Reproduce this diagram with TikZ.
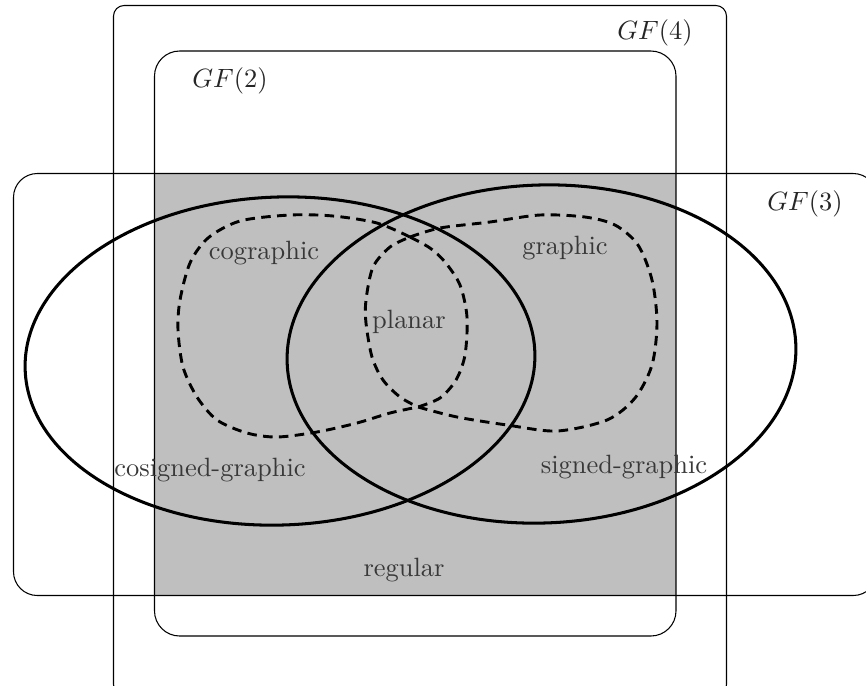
\documentclass[tikz,border=0pt]{standalone}
\begin{document}
\begin{tikzpicture}[x=0.378pt,y=-0.378pt,
  setbox/.style={draw=black, line width=0.4pt},
  venn/.style={draw=black, line width=1.15pt},
  loopline/.style={draw=black, line width=1.1pt, dash pattern=on 3.6pt off 2.4pt},
  lbl/.style={text=black!78, inner sep=0pt},
  gflbl/.style={text=black!85, inner sep=0pt}]
\useasboundingbox (0,0) rectangle (866,685);
% shaded intersection of GF(2) and GF(3)
\fill[black!25] (154.5,173.5) rectangle (676,595.5);
% field rectangles
\draw[setbox, rounded corners=4pt] (113.5,5.5) rectangle (726.5,695);
\draw[setbox, rounded corners=9.5pt] (154.5,51) rectangle (676,636);
\draw[setbox, rounded corners=9pt] (13.5,173.5) rectangle (877,595.5);
% the two big ellipses
\draw[venn, rotate around={2:(280,361)}] (280,361) ellipse (255 and 164);
\draw[venn, rotate around={2:(541.5,354)}] (541.5,354) ellipse (254.5 and 169);
% cographic loop
\draw[loopline] plot[smooth] coordinates {(410,237) (377,223) (333,216) (290,215) (240,221) (208,238) (190,263) (180,300) (178,330) (183,367) (197,397) (217,420) (247,433) (277,437) (317,432) (357,423) (390,413) (418,407)}
  -- plot[smooth] coordinates {(418,407) (440,398) (456,380) (465,355) (467,317) (460,285) (445,262) (430,248) (410,237)} -- cycle;
% graphic loop
\draw[loopline] plot[smooth] coordinates {(410,237) (440,228) (490,222) (540,215) (585,217) (615,225) (638,245) (652,280) (657,323) (652,365) (635,398) (607,420) (557,431) (507,425) (457,417) (418,407)}
  -- plot[smooth] coordinates {(418,407) (400,397) (383,380) (372,357) (366,323) (366,300) (373,267) (390,247) (410,237)} -- cycle;
% labels
\node[gflbl] (gf4) at (655,33) {$GF(4)$};
\node[gflbl] (gf2) at (230,81) {$GF(2)$};
\node[gflbl] (gf3) at (805,204) {$GF(3)$};
\node[lbl] (cog) at (264,253) {cographic};
\node[lbl] (gra) at (565,248) {graphic};
\node[lbl] (pla) at (409,322) {planar};
\node[lbl] (cos) at (210,470) {cosigned-graphic};
\node[lbl] (sig) at (624,467) {signed-graphic};
\node[lbl] (reg) at (404,570) {regular};
\end{tikzpicture}
\end{document}
